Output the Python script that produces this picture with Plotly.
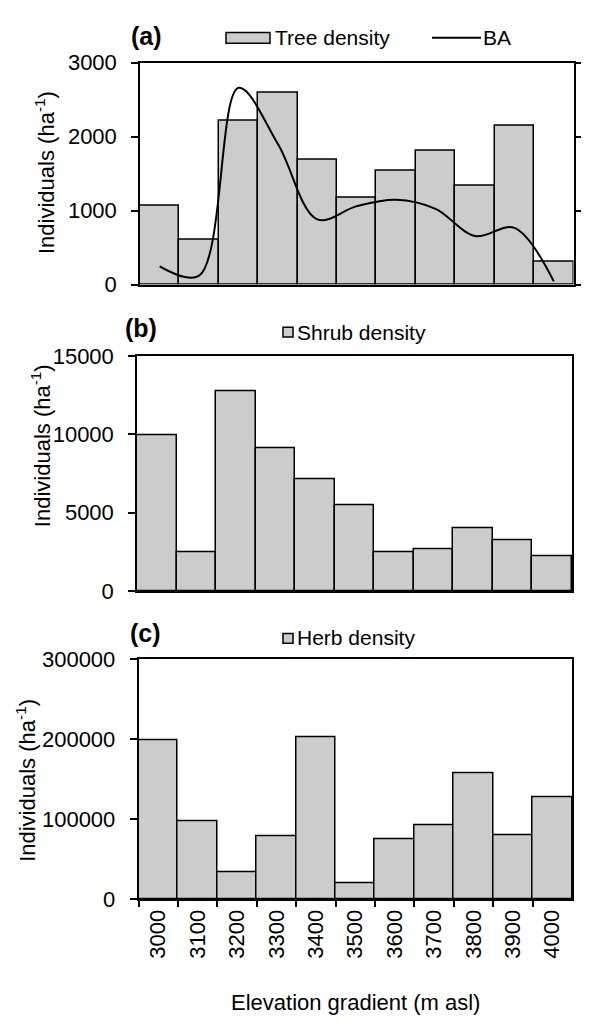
import plotly.graph_objects as go

W, H = 589, 1029

elevation = ["3000", "3100", "3200", "3300", "3400", "3500", "3600", "3700", "3800", "3900", "4000"]
tree_density = [1067, 606, 2218, 2591, 1695, 1177, 1546, 1805, 1340, 2143, 307]
basal_area = [246, 120, 2660, 1900, 880, 1060, 1146, 1023, 655, 765, 43]
shrub_density = [9950, 2450, 12750, 9150, 7150, 5450, 2500, 2700, 4000, 3250, 2200]
herb_density = [199000, 98000, 34000, 79000, 203000, 20000, 75000, 92000, 158000, 80000, 127000]

FONT = "Liberation Sans, Arial, sans-serif"
BAR_FILL = "#cccccc"
INK = "#000000"


def px(x):
    return x / W


def py(y):
    return 1 - y / H


fig = go.Figure()

fig.add_trace(go.Bar(x=elevation, y=tree_density, name="Tree density",
                     marker=dict(color=BAR_FILL, line=dict(color=INK, width=1.5)),
                     xaxis="x", yaxis="y", showlegend=False))
fig.add_trace(go.Scatter(x=elevation, y=basal_area, name="BA", mode="lines",
                         line=dict(color=INK, width=2, shape="spline", smoothing=1),
                         xaxis="x", yaxis="y2", showlegend=False))
fig.add_trace(go.Bar(x=elevation, y=shrub_density, name="Shrub density",
                     marker=dict(color=BAR_FILL, line=dict(color=INK, width=1.5)),
                     xaxis="x2", yaxis="y3", showlegend=False))
fig.add_trace(go.Bar(x=elevation, y=herb_density, name="Herb density",
                     marker=dict(color=BAR_FILL, line=dict(color=INK, width=1.5)),
                     xaxis="x3", yaxis="y4", showlegend=False))

axis_common = dict(showgrid=False, zeroline=False, showline=True, linecolor=INK,
                   linewidth=1.5, tickfont=dict(size=22, color=INK, family=FONT))
yax = dict(axis_common, ticks="outside", ticklen=7, tickwidth=1.5, tickcolor=INK,
           tickformat="d", ticklabelstandoff=10)

fig.update_layout(
    width=W, height=H,
    margin=dict(l=0, r=0, t=0, b=0),
    paper_bgcolor="white", plot_bgcolor="white",
    font=dict(family=FONT, color=INK, size=22),
    bargap=0,
    showlegend=False,
    xaxis=dict(axis_common, domain=[px(140), px(573.5)], anchor="y", type="category",
               range=[-0.5, 10.5], showticklabels=False, ticks="", mirror=True),
    yaxis=dict(yax, domain=[py(279.3), py(51.9)], anchor="x", range=[0, 3000],
               tickvals=[0, 1000, 2000, 3000]),
    yaxis2=dict(yax, overlaying="y", side="right", anchor="x", range=[0, 3000],
                tickvals=[0, 1000, 2000, 3000], showticklabels=False, ticklen=6),
    xaxis2=dict(axis_common, domain=[px(137), px(572)], anchor="y3", type="category",
                range=[-0.5, 10.5], showticklabels=False, ticks="", mirror=True),
    yaxis3=dict(yax, domain=[py(593.3), py(352.7)], anchor="x2", range=[0, 15000],
                tickvals=[0, 5000, 10000, 15000], mirror=True),
    xaxis3=dict(axis_common, domain=[px(138.5), px(572)], anchor="y4", type="category",
                range=[-0.5, 10.5], ticks="outside", ticklen=6, tickwidth=1.5,
                tickcolor=INK, tickson="boundaries", tickangle=-90, mirror=True),
    yaxis4=dict(yax, domain=[py(909.3), py(663.3)], anchor="x3", range=[0, 300000],
                tickvals=[0, 100000, 200000, 300000], mirror=True),
)

# legend keys (drawn as decorations)
shapes = [
    dict(type="rect", xref="paper", yref="paper", x0=px(226), x1=px(270), y0=py(32), y1=py(21),
         fillcolor=BAR_FILL, line=dict(color=INK, width=1.5)),
    dict(type="line", xref="paper", yref="paper", x0=px(432), x1=px(481), y0=py(26.5), y1=py(26.5),
         line=dict(color=INK, width=2)),
    dict(type="rect", xref="paper", yref="paper", x0=px(283), x1=px(293), y0=py(333), y1=py(323),
         fillcolor=BAR_FILL, line=dict(color=INK, width=1.5)),
    dict(type="rect", xref="paper", yref="paper", x0=px(283), x1=px(293), y0=py(647), y1=py(637),
         fillcolor=BAR_FILL, line=dict(color=INK, width=1.5)),
]
fig.update_layout(shapes=shapes)

annotations = []
for text, x, y in [("Tree density", 273, 26), ("BA", 481, 26),
                   ("Shrub density", 295, 328), ("Herb density", 295, 641)]:
    annotations.append(dict(text=text, x=px(x), y=py(y), xref="paper", yref="paper",
                            showarrow=False, xanchor="left", yanchor="middle",
                            font=dict(size=21, color=INK, family=FONT)))

for text, x, y in [("<b>(a)</b>", 146, 25), ("<b>(b)</b>", 141, 324), ("<b>(c)</b>", 145, 636)]:
    annotations.append(dict(text=text, x=px(x), y=py(y), xref="paper", yref="paper",
                            showarrow=False, xanchor="center", yanchor="middle",
                            font=dict(size=25, color=INK, family=FONT)))

ytitle = "Individuals (ha<sup>-1</sup>)"
for (xc, yc) in [(45, 165), (41, 445), (26, 788)]:
    annotations.append(dict(text=ytitle, x=px(xc), y=py(yc), xref="paper", yref="paper",
                            showarrow=False, textangle=-90, xanchor="center", yanchor="middle",
                            font=dict(size=22, color=INK, family=FONT)))
annotations.append(dict(text="Elevation gradient (m asl)", x=px(355), y=py(1015),
                        xref="paper", yref="paper", showarrow=False,
                        xanchor="center", yanchor="middle",
                        font=dict(size=22, color=INK, family=FONT)))
fig.update_layout(annotations=annotations)

fig.write_html("out.html")
